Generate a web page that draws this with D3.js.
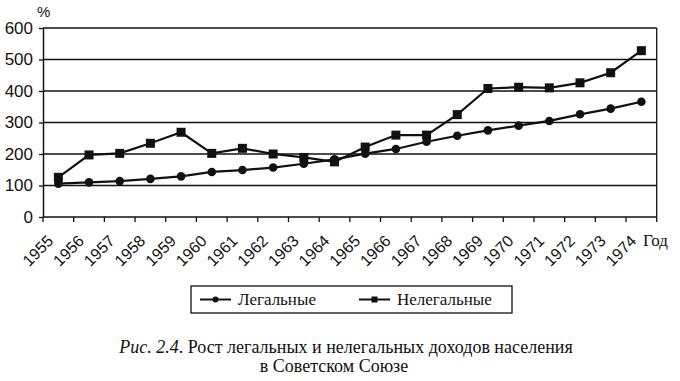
<!DOCTYPE html>
<meta charset="utf-8">
<head>
<script src="https://d3js.org/d3.v7.min.js"></script>
<style>
  body { margin: 0; background: #fff; }
  text { fill: #111; }
</style>
</head>
<body>
<div id="chart"></div>
<script>
// data (% of 1955 level)
var years = ["1955","1956","1957","1958","1959","1960","1961","1962","1963","1964",
             "1965","1966","1967","1968","1969","1970","1971","1972","1973","1974"];
var legal   = [106,110,114,121,129,143,149,157,169,183,201,216,239,258,275,290,305,326,344,366];
var illegal = [126,197,202,234,269,202,218,200,189,175,222,260,260,325,408,412,410,426,458,528];
var yTicks = [0,100,200,300,400,500,600];
var seriesNames = ["Легальные", "Нелегальные"];

var W = 680, H = 381;
var pLeft = 43, pRight = 656.7, pTop = 28, pBottom = 217;

var svg = d3.select("#chart")
  .append("svg")
    .attr("width", W)
    .attr("height", H);

var x = d3.scaleBand()
  .domain(years)
  .range([pLeft, pRight]);

var y = d3.scaleLinear()
  .domain([0, 600])
  .range([pBottom, pTop]);

var ink = "#111";

// gridlines
svg.selectAll(".grid")
  .data(yTicks.filter(function(d) { return d > 0; }))
  .enter()
  .append("line")
    .attr("x1", pLeft).attr("x2", pRight)
    .attr("y1", function(d) { return y(d); })
    .attr("y2", function(d) { return y(d); })
    .attr("stroke", ink)
    .attr("stroke-width", 1.3);

// right border
svg.append("line")
  .attr("x1", pRight).attr("x2", pRight)
  .attr("y1", pTop).attr("y2", pBottom)
  .attr("stroke", ink).attr("stroke-width", 1.3);

// Y axis
var yAxis = svg.append("g")
  .attr("transform", "translate(" + pLeft + ",0)")
  .call(d3.axisLeft(y).tickValues(yTicks).tickSize(4).tickSizeOuter(0).tickPadding(6));
yAxis.select(".domain").attr("stroke", ink).attr("stroke-width", 1.5);
yAxis.selectAll(".tick line").attr("stroke", ink).attr("stroke-width", 1.3);
yAxis.selectAll("text")
  .style("font-family", "Liberation Sans, Arial, sans-serif")
  .style("font-size", "17px")
  .attr("fill", ink);

// X axis line
svg.append("line")
  .attr("x1", pLeft).attr("x2", pRight)
  .attr("y1", pBottom).attr("y2", pBottom)
  .attr("stroke", ink).attr("stroke-width", 1.5);

// x ticks at band boundaries
var bounds = years.map(function(d) { return x(d); }).concat([pRight]);
svg.selectAll(".xtick")
  .data(bounds)
  .enter()
  .append("line")
    .attr("x1", function(d) { return d; })
    .attr("x2", function(d) { return d; })
    .attr("y1", pBottom).attr("y2", pBottom + 5)
    .attr("stroke", ink).attr("stroke-width", 1.3);

// x labels, rotated
svg.selectAll(".xlab")
  .data(years)
  .enter()
  .append("text")
    .attr("transform", function(d) {
      return "translate(" + (x(d) + x.bandwidth() / 2 - 4) + "," + (pBottom + 25) + ")rotate(-45)";
    })
    .style("text-anchor", "end")
    .style("font-family", "Liberation Sans, Arial, sans-serif")
    .style("font-size", "16px")
    .text(function(d) { return d; });

svg.append("text")
  .attr("x", 643).attr("y", 246)
  .style("font-family", "Liberation Serif, Times New Roman, serif")
  .style("font-size", "17px")
  .text("Год");

svg.append("text")
  .attr("x", 37).attr("y", 17)
  .style("font-family", "Liberation Sans, Arial, sans-serif")
  .style("font-size", "15px")
  .text("%");

// lines
var line = d3.line()
  .x(function(d, i) { return x(years[i]) + x.bandwidth() / 2; })
  .y(function(d) { return y(d); });

[legal, illegal].forEach(function(s) {
  svg.append("path")
    .datum(s)
    .attr("d", line)
    .attr("fill", "none")
    .attr("stroke", ink)
    .attr("stroke-width", 2.2);
});

// markers
svg.selectAll(".dot")
  .data(legal)
  .enter()
  .append("circle")
    .attr("cx", function(d, i) { return x(years[i]) + x.bandwidth() / 2; })
    .attr("cy", function(d) { return y(d); })
    .attr("r", 4.3)
    .attr("fill", ink);

svg.selectAll(".sq")
  .data(illegal)
  .enter()
  .append("rect")
    .attr("x", function(d, i) { return x(years[i]) + x.bandwidth() / 2 - 4.5; })
    .attr("y", function(d) { return y(d) - 4.5; })
    .attr("width", 9).attr("height", 9)
    .attr("fill", ink);

// legend
var lg = svg.append("g");
lg.append("rect")
  .attr("x", 191).attr("y", 286)
  .attr("width", 321).attr("height", 27)
  .attr("fill", "none")
  .attr("stroke", ink).attr("stroke-width", 1.3);

var items = [{x: 200, name: seriesNames[0], shape: "circle"},
             {x: 359, name: seriesNames[1], shape: "square"}];
items.forEach(function(it) {
  lg.append("line")
    .attr("x1", it.x).attr("x2", it.x + 31)
    .attr("y1", 299.5).attr("y2", 299.5)
    .attr("stroke", ink).attr("stroke-width", 2);
  if (it.shape == "circle") {
    lg.append("circle").attr("cx", it.x + 15.5).attr("cy", 299.5).attr("r", 3).attr("fill", ink);
  } else {
    lg.append("rect").attr("x", it.x + 12.5).attr("y", 296.5).attr("width", 6).attr("height", 6).attr("fill", ink);
  }
  lg.append("text")
    .attr("x", it.x + 38).attr("y", 305)
    .style("font-family", "Liberation Serif, Times New Roman, serif")
    .style("font-size", "17px")
    .text(it.name);
});

// caption
var cap = svg.append("text")
  .attr("x", 346).attr("y", 353)
  .style("text-anchor", "middle")
  .style("font-family", "Liberation Serif, Times New Roman, serif")
  .style("font-size", "18px");
cap.append("tspan").style("font-style", "italic").text("Рис. 2.4");
cap.append("tspan").text(". Рост легальных и нелегальных доходов населения");

svg.append("text")
  .attr("x", 334).attr("y", 372)
  .style("text-anchor", "middle")
  .style("font-family", "Liberation Serif, Times New Roman, serif")
  .style("font-size", "18px")
  .text("в Советском Союзе");
</script>
</body>
